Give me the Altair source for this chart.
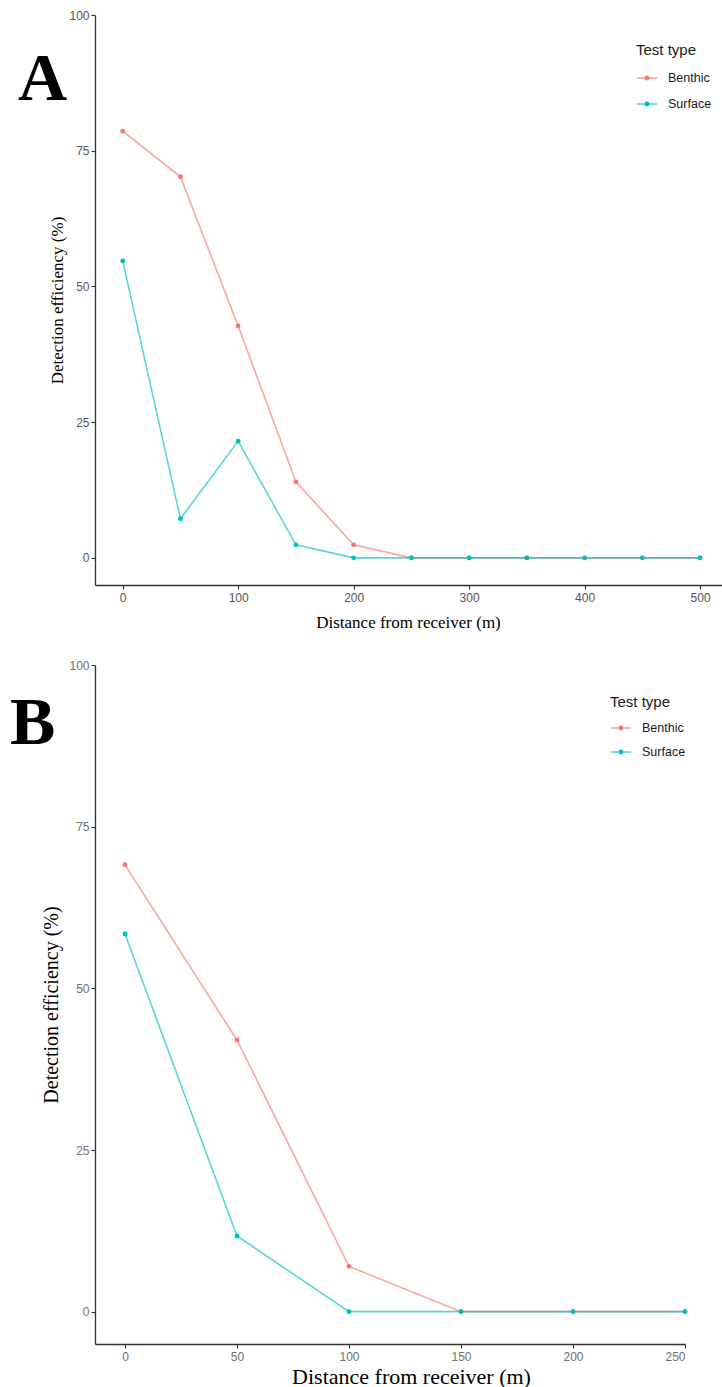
import altair as alt
import pandas as pd

# Test type order and ggplot-style hues
tests = ["Benthic", "Surface"]
colors = ["#F8766D", "#00BFC4"]

# Panel A: receiver range test, 0-500 m
distance_a = [0, 50, 100, 150, 200, 250, 300, 350, 400, 450, 500]
benthic_a = [78.6, 70.2, 42.7, 14.0, 2.4, 0, 0, 0, 0, 0, 0]
surface_a = [54.7, 7.2, 21.5, 2.4, 0, 0, 0, 0, 0, 0, 0]
ticks_a = [0, 100, 200, 300, 400, 500]

# Panel B: receiver range test, 0-250 m
distance_b = [0, 50, 100, 150, 200, 250]
benthic_b = [69.1, 42.0, 7.0, 0, 0, 0]
surface_b = [58.4, 11.7, 0, 0, 0, 0]
ticks_b = [0, 50, 100, 150, 200, 250]

y_ticks = [0, 25, 50, 75, 100]

SANS = "Liberation Sans"
SERIF = "Liberation Serif"


def long_table(dist, benthic, surface):
    rows = []
    for name, vals in zip(tests, [benthic, surface]):
        for d, v in zip(dist, vals):
            rows.append({"distance": d, "efficiency": v, "test": name})
    return pd.DataFrame(rows)


def panel(df, x_domain, x_ticks, width, height, letter, letter_x, letter_y,
          label_size, label_color, ytitle_size, ytitle_x, xtitle_size,
          xtitle_x, xtitle_y, legend_x, legend_y, legend_gap):
    color = alt.Color("test:N", scale=alt.Scale(domain=tests, range=colors), legend=None)
    x = alt.X(
        "distance:Q",
        scale=alt.Scale(domain=x_domain, nice=False, zero=False),
        axis=alt.Axis(
            values=x_ticks, title="Distance from receiver (m)", grid=False,
            labelFont=SANS, labelFontSize=label_size, labelColor=label_color,
            labelPadding=3, tickSize=4, tickColor="#333333", tickWidth=1.1,
            domainColor="#333333", domainWidth=1.3,
            titleFont=SERIF, titleFontSize=xtitle_size, titleFontWeight="normal",
            titleColor="#000000", titleX=xtitle_x, titleY=xtitle_y,
            titleBaseline="middle", titleAlign="center",
        ),
    )
    y = alt.Y(
        "efficiency:Q",
        scale=alt.Scale(domain=[-5, 100], nice=False, zero=False),
        axis=alt.Axis(
            values=y_ticks, title="Detection efficiency (%)", grid=False,
            labelFont=SANS, labelFontSize=label_size, labelColor=label_color,
            labelPadding=2, tickSize=4, tickColor="#333333", tickWidth=1.1,
            domainColor="#333333", domainWidth=1.3,
            titleFont=SERIF, titleFontSize=ytitle_size, titleFontWeight="normal",
            titleColor="#000000", titleX=ytitle_x, titleY=height / 2,
            titleAngle=-90, titleBaseline="middle", titleAlign="center",
        ),
    )
    base = alt.Chart(df).encode(x=x, y=y, color=color)
    lines = base.mark_line(strokeWidth=1.6, opacity=0.65)
    points = base.mark_circle(size=24, opacity=1)

    tag = alt.Chart(pd.DataFrame({"t": [letter]})).mark_text(
        font=SERIF, fontSize=68, fontWeight="bold", align="left",
        baseline="alphabetic", color="#000000",
    ).encode(text="t:N", x=alt.value(letter_x), y=alt.value(letter_y))

    layers = [lines, points, tag]

    # legend: title, then a line-and-dot key for each test type
    layers.append(
        alt.Chart(pd.DataFrame({"t": ["Test type"]})).mark_text(
            font=SANS, fontSize=15, align="left", baseline="middle", color="#1a1a1a",
        ).encode(text="t:N", x=alt.value(legend_x), y=alt.value(legend_y))
    )
    for i, (name, col) in enumerate(zip(tests, colors)):
        ky = legend_y + (i + 1) * legend_gap + 2
        key = pd.DataFrame({"t": [name]})
        layers.append(
            alt.Chart(key).mark_rule(color=col, strokeWidth=1.6, opacity=0.65).encode(
                x=alt.value(legend_x + 1), x2=alt.value(legend_x + 21), y=alt.value(ky)
            )
        )
        layers.append(
            alt.Chart(key).mark_circle(color=col, size=24, opacity=1).encode(
                x=alt.value(legend_x + 11), y=alt.value(ky)
            )
        )
        layers.append(
            alt.Chart(key).mark_text(
                font=SANS, fontSize=12.5, align="left", baseline="middle", color="#1a1a1a",
            ).encode(text="t:N", x=alt.value(legend_x + 32), y=alt.value(ky))
        )

    return alt.layer(*layers).properties(width=width, height=height)


chart_a = panel(
    long_table(distance_a, benthic_a, surface_a), [-24, 519], ticks_a, 627, 570,
    "A", -77, 85, 12, "#555555", 17, -38, 17, 313, 37, 541, 35, 26,
)
chart_b = panel(
    long_table(distance_b, benthic_b, surface_b), [-13.4, 250], ticks_b, 590, 679,
    "B", -85, 79, 12, "#707070", 20, -44, 22, 316, 32, 515, 37, 24,
)

chart = (
    alt.vconcat(chart_a, chart_b, spacing=29)
    .properties(padding={"left": 10, "top": 9, "right": 0, "bottom": 0}, background="#ffffff")
    .configure_view(stroke=None)
)

chart.save("out.html", embed_options={"renderer": "svg", "actions": False})
